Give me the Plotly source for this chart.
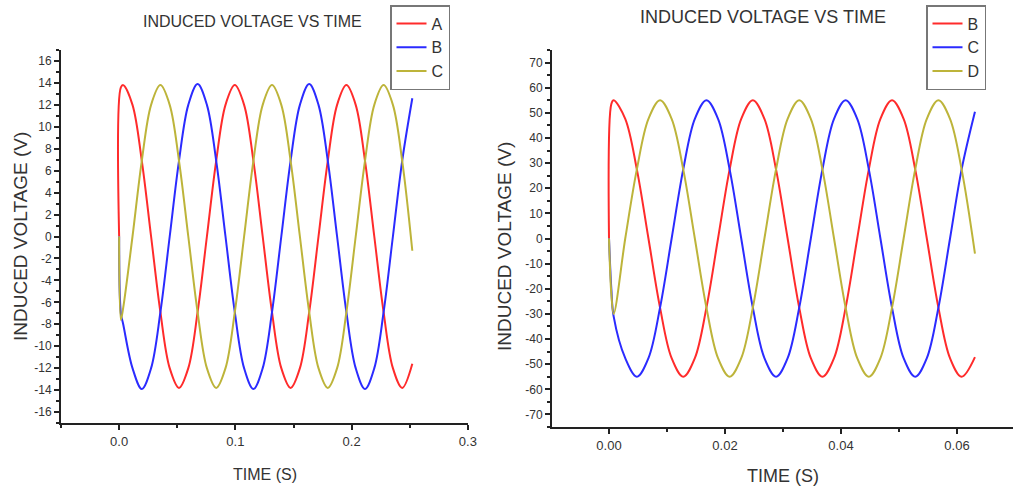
import plotly.graph_objects as go

# ---------------- data ----------------
# Left panel (phases A, B, C)
t_left = [0, 0.0015, 0.0035, 0.0115, 0.0195, 0.0275, 0.0355, 0.0435, 0.0515, 0.0595,
          0.0675, 0.0755, 0.0835, 0.0915, 0.0995, 0.1075, 0.1155, 0.1235, 0.1315, 0.1395,
          0.1475, 0.1555, 0.1635, 0.1715, 0.1795, 0.1875, 0.1955, 0.2035, 0.2115, 0.2195,
          0.2275, 0.2355, 0.2435, 0.2522]
v_A = [0, 13.6, 13.8, 12.0, 6.9, 0.0, -6.9, -12.0, -13.8, -12.0, -6.9, 0.0, 6.9, 12.0,
       13.8, 12.0, 6.9, 0.0, -6.9, -12.0, -13.8, -12.0, -6.9, 0.0, 6.9, 12.0, 13.8, 12.0,
       6.9, 0.0, -6.9, -12.0, -13.8, -11.6]
v_B = [0, -7.0, -8.0, -12.0, -13.9, -12.0, -6.9, 0.0, 6.9, 12.0, 13.9, 12.0, 6.9, 0.0,
       -6.9, -12.0, -13.9, -12.0, -6.9, 0.0, 6.9, 12.0, 13.9, 12.0, 6.9, 0.0, -6.9, -12.0,
       -13.9, -12.0, -6.9, 0.0, 6.9, 12.6]
v_C = [0, -7.6, -6.5, 0.0, 6.9, 12.0, 13.8, 12.0, 6.9, 0.0, -6.9, -12.0, -13.8, -12.0,
       -6.9, 0.0, 6.9, 12.0, 13.8, 12.0, 6.9, 0.0, -6.9, -12.0, -13.8, -12.0, -6.9, 0.0,
       6.9, 12.0, 13.8, 12.0, 6.9, -1.3]

# Right panel (phases B, C, D)
t_right = [0, 0.0004, 0.0008, 0.0028, 0.0048, 0.0068, 0.0088, 0.0108, 0.0128, 0.0148,
           0.0168, 0.0188, 0.0208, 0.0228, 0.0248, 0.0268, 0.0288, 0.0308, 0.0328, 0.0348,
           0.0368, 0.0388, 0.0408, 0.0428, 0.0448, 0.0468, 0.0488, 0.0508, 0.0528, 0.0548,
           0.0568, 0.0588, 0.0608, 0.0631]
w_B = [0, 53.5, 55, 47.6, 27.5, 0, -27.5, -47.6, -55, -47.6, -27.5, 0, 27.5, 47.6,
       55, 47.6, 27.5, 0, -27.5, -47.6, -55, -47.6, -27.5, 0, 27.5, 47.6, 55, 47.6,
       27.5, 0, -27.5, -47.6, -55, -47.2]
w_C = [0, -20, -31, -47.6, -55, -47.6, -27.5, 0, 27.5, 47.6, 55, 47.6, 27.5, 0,
       -27.5, -47.6, -55, -47.6, -27.5, 0, 27.5, 47.6, 55, 47.6, 27.5, 0, -27.5, -47.6,
       -55, -47.6, -27.5, 0, 27.5, 50.4]
w_D = [0, -22, -30, 0, 27.5, 47.6, 55, 47.6, 27.5, 0, -27.5, -47.6, -55, -47.6,
       -27.5, 0, 27.5, 47.6, 55, 47.6, 27.5, 0, -27.5, -47.6, -55, -47.6, -27.5, 0,
       27.5, 47.6, 55, 47.6, 27.5, -6]

left_names = ["A", "B", "C"]
right_names = ["B", "C", "D"]
left_yticks = [16, 14, 12, 10, 8, 6, 4, 2, 0, -2, -4, -6, -8, -10, -12, -14, -16]
right_yticks = [70, 60, 50, 40, 30, 20, 10, 0, -10, -20, -30, -40, -50, -60, -70]
left_xticks = [0.0, 0.1, 0.2, 0.3]
left_xtext = ["0.0", "0.1", "0.2", "0.3"]
right_xticks = [0.00, 0.02, 0.04, 0.06]
right_xtext = ["0.00", "0.02", "0.04", "0.06"]

title_text = "INDUCED VOLTAGE VS TIME"
ytitle_text = "INDUCED VOLTAGE (V)"
xtitle_text = "TIME (S)"

# ---------------- styling ----------------
W, H = 1013, 490
ML, MR, MT, MB = 0, 0, 50, 63
PW, PH = W - ML - MR, H - MT - MB
colors = ["#ff2b2b", "#2b2bff", "#bdb43a"]
FONT = "Liberation Sans, Arial, sans-serif"
TXT = "#333333"


def px_x(p):
    return (p - ML) / PW


def px_y(p):
    return (H - MB - p) / PH


fig = go.Figure()
for name, ys, c in zip(left_names, [v_A, v_B, v_C], colors):
    fig.add_trace(go.Scatter(x=t_left, y=ys, name=name, mode="lines",
                             line=dict(color=c, width=2, shape="spline", smoothing=1),
                             xaxis="x", yaxis="y", legend="legend"))
for name, ys, c in zip(right_names, [w_B, w_C, w_D], colors):
    fig.add_trace(go.Scatter(x=t_right, y=ys, name=name, mode="lines",
                             line=dict(color=c, width=2, shape="spline", smoothing=1),
                             xaxis="x2", yaxis="y2", legend="legend2"))

axis_common = dict(showline=True, linecolor="#222222", linewidth=2, ticks="outside",
                   ticklen=5, tickwidth=1.5, tickcolor="#222222", showgrid=False,
                   zeroline=False, mirror=False, automargin=False,
                   tickfont=dict(family=FONT, size=12, color=TXT))

legend_common = dict(xanchor="left", yanchor="top",
                     bordercolor="#777777", borderwidth=1.5, bgcolor="white",
                     font=dict(family=FONT, size=16, color=TXT), tracegroupgap=0,
                     itemwidth=30)

fig.update_layout(
    width=W, height=H, margin=dict(l=ML, r=MR, t=MT, b=MB, autoexpand=False),
    paper_bgcolor="white", plot_bgcolor="white",
    xaxis=dict(axis_common, domain=[px_x(61), px_x(468)], range=[-0.05, 0.3001],
               tickvals=left_xticks, ticktext=left_xtext, anchor="y",
               tickfont=dict(family=FONT, size=13, color=TXT),
               minor=dict(dtick=0.05, tick0=0, ticks="outside", ticklen=3, tickcolor="#222222")),
    yaxis=dict(axis_common, domain=[px_y(423), 1], range=[-17, 17],
               tickvals=left_yticks, ticktext=[str(v) for v in left_yticks], anchor="x",
               minor=dict(dtick=1, tick0=0, ticks="outside", ticklen=3, tickcolor="#222222")),
    xaxis2=dict(axis_common, domain=[px_x(552), 1], range=[-0.00983, 0.06966],
                tickvals=right_xticks, ticktext=right_xtext, anchor="y2",
                tickfont=dict(family=FONT, size=13, color=TXT),
                minor=dict(dtick=0.01, tick0=0, ticks="outside", ticklen=3, tickcolor="#222222")),
    yaxis2=dict(axis_common, domain=[0, 1], range=[-75, 75],
                tickvals=right_yticks, ticktext=[str(v) for v in right_yticks], anchor="x2",
                minor=dict(dtick=5, tick0=0, ticks="outside", ticklen=3, tickcolor="#222222")),
    legend=dict(legend_common, x=px_x(390), y=px_y(5)),
    legend2=dict(legend_common, x=px_x(926), y=px_y(5)),
    showlegend=True,
)

annots = [
    dict(text=title_text, x=px_x(252), y=px_y(21), font=dict(size=16)),
    dict(text=title_text, x=px_x(763), y=px_y(17), font=dict(size=18)),
    dict(text=ytitle_text, x=px_x(20), y=px_y(237), font=dict(size=19), textangle=-90),
    dict(text=ytitle_text, x=px_x(504), y=px_y(247), font=dict(size=19), textangle=-90),
    dict(text=xtitle_text, x=px_x(265), y=px_y(474), font=dict(size=16)),
    dict(text=xtitle_text, x=px_x(783), y=px_y(476), font=dict(size=18)),
]
for a in annots:
    fnt = dict(family=FONT, color=TXT)
    fnt.update(a.pop("font"))
    fig.add_annotation(xref="paper", yref="paper", showarrow=False, xanchor="center",
                       yanchor="middle", font=fnt, **a)

fig.write_html("out.html",
               config={"displayModeBar": False},
               post_script="document.body.style.margin='0';document.body.style.overflow='hidden';")
